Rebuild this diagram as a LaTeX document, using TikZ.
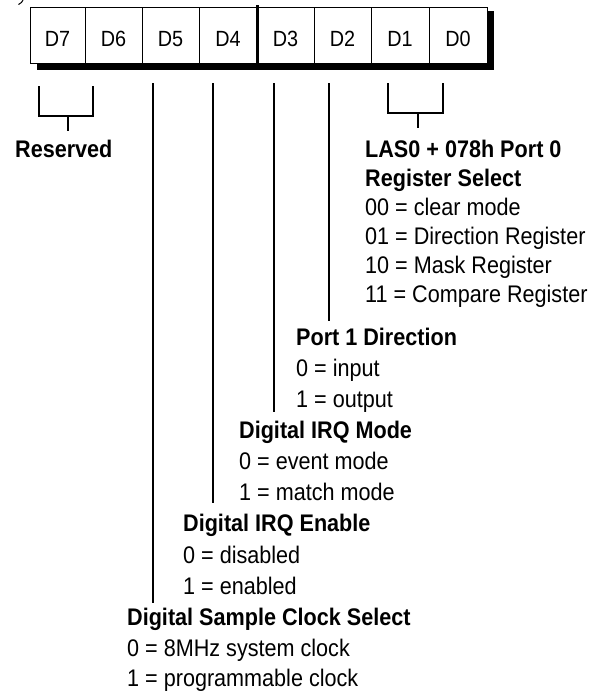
\documentclass[tikz,border=0pt]{standalone}
\usepackage{fontspec}
\setmainfont[FakeStretch=0.9]{Liberation Sans}
\begin{document}
\begin{tikzpicture}[x=1pt,y=-1pt,
  cell/.style={font=\fontsize{22}{22}\selectfont, anchor=base, inner sep=0pt},
  hd/.style={font=\fontsize{24}{24}\selectfont\bfseries, anchor=base west, inner sep=0pt},
  tx/.style={font=\fontsize{24}{24}\selectfont, anchor=base west, inner sep=0pt},
  wire/.style={line width=2pt},
  thin/.style={line width=1pt}]
\useasboundingbox (0,0) rectangle (593,694);
% fragment at top left
\draw[thin] (18.5,4.5) .. controls (21,3.5) and (22.5,1.5) .. (23,0);
% register box with shadow
\fill[black] (37,11) rectangle (494,70);
\filldraw[fill=white, draw=black, thin] (30,7) rectangle (487,63);
\foreach \x in {85,142,199,314,371,429}
  \draw[thin] (\x,7) -- (\x,63);
\draw[line width=3pt] (257,5) -- (257,63);
% cell labels
\node[cell] (c7) at (57.5,46) {D7};
\node[cell] (c6) at (113.5,46) {D6};
\node[cell] (c5) at (170.5,46) {D5};
\node[cell] (c4) at (228,46) {D4};
\node[cell] (c3) at (285.5,46) {D3};
\node[cell] (c2) at (342.5,46) {D2};
\node[cell] (c1) at (400,46) {D1};
\node[cell] (c0) at (458,46) {D0};
% Reserved
\node[hd] (res) at (15,157) {Reserved};
\coordinate (r1) at (39,86);
\coordinate (r2) at (93,86);
\coordinate (rs) at (68,116);
\coordinate (rb) at (68,131);
\draw[wire] (r1) |- (rs) -| (r2);
\draw[wire] (rs) -- (rb);
% LAS0 block
\node[hd] (las) at (365,157) {LAS0 + 078h Port 0};
\node[hd] (rsel) at (365,186) {Register Select};
\node[tx] (l00) at (365,215) {00 = clear mode};
\node[tx] (l01) at (365,244) {01 = Direction Register};
\node[tx] (l10) at (365,273) {10 = Mask Register};
\node[tx] (l11) at (365,302) {11 = Compare Register};
\coordinate (b1) at (388,83);
\coordinate (b2) at (443,83);
\coordinate (bs) at (418,113);
\coordinate (bb) at (418,128);
\draw[wire] (b1) |- (bs) -| (b2);
\draw[wire] (bs) -- (bb);
% Port 1 Direction
\node[hd] (p1) at (296,345) {Port 1 Direction};
\node[tx] (p1a) at (296,376) {0 = input};
\node[tx] (p1b) at (296,407) {1 = output};
\coordinate (d2t) at (329,83);
\coordinate (d2b) at (329,321);
\draw[wire] (d2t) -- (d2b);
% Digital IRQ Mode
\node[hd] (mode) at (239,438) {Digital IRQ Mode};
\node[tx] (modea) at (239,469) {0 = event mode};
\node[tx] (modeb) at (239,500) {1 = match mode};
\coordinate (d3t) at (274,83);
\coordinate (d3b) at (274,412);
\draw[wire] (d3t) -- (d3b);
% Digital IRQ Enable
\node[hd] (en) at (183,531) {Digital IRQ Enable};
\node[tx] (ena) at (183,563) {0 = disabled};
\node[tx] (enb) at (183,594) {1 = enabled};
\coordinate (d4t) at (213,83);
\coordinate (d4b) at (213,503);
\draw[wire] (d4t) -- (d4b);
% Digital Sample Clock Select
\node[hd] (clk) at (127,625) {Digital Sample Clock Select};
\node[tx] (clka) at (127,656) {0 = 8MHz system clock};
\node[tx] (clkb) at (127,686) {1 = programmable clock};
\coordinate (d5t) at (153,83);
\coordinate (d5b) at (153,603);
\draw[wire] (d5t) -- (d5b);
\end{tikzpicture}
\end{document}
